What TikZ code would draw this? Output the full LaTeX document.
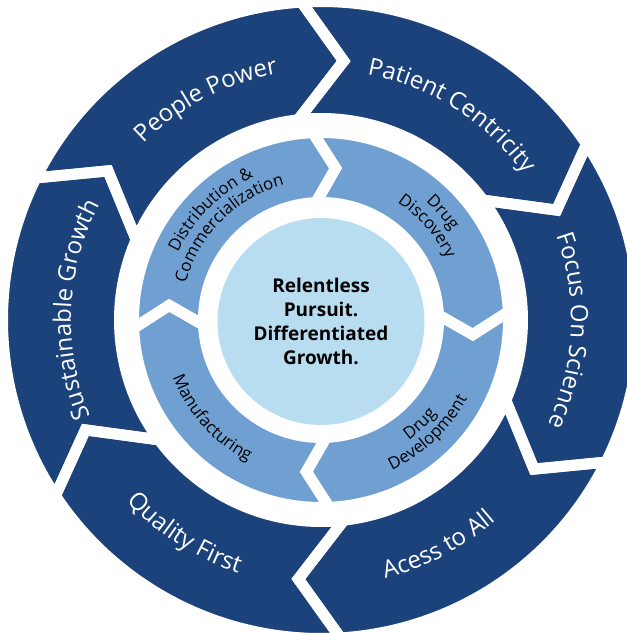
\documentclass[tikz,border=0pt]{standalone}
\usepackage{fontspec}
\setmainfont{Open Sans}
\usetikzlibrary{decorations.text}
\definecolor{dblue}{RGB}{27,66,122}
\definecolor{mblue}{RGB}{112,160,210}
\definecolor{lblue}{RGB}{185,221,240}
\newcommand\ofont{\fontsize{24}{24}\selectfont}
\newcommand\ifont{\fontsize{16.8}{16.8}\selectfont}
\tikzset{
  outerlbl/.style={decorate, decoration={text along path, text={|\ofont|#1}, text align=center, text color=white}},
  innerlbl/.style={decorate, decoration={text along path, text={|\ifont|#1}, text align=center, text color=black}},
  gapline/.style={draw=white, line width=11pt, line join=miter},
}
\begin{document}
\begin{tikzpicture}[x=1pt,y=1pt]
\useasboundingbox (-321,-313) rectangle (306,320);
\clip (-321,-313) rectangle (306,320);
\fill[white] (-321,-313) rectangle (306,320);
% outer ring segments
\foreach \k in {0,...,5}{
  \pgfmathsetmacro\a{95-60*\k}
  \pgfmathsetmacro\b{35-60*\k}
  \fill[dblue] ({\a-1.5}:318.5pt) arc[start angle=\a-1.5, end angle=\b-1.5, radius=318.5pt]
    -- ({\b-10}:260pt) -- ({\b+1.5}:201.5pt) arc[start angle=\b+1.5, end angle=\a+1.5, radius=201.5pt]
    -- ({\a-10}:260pt) -- cycle;
}
\foreach \k in {0,...,5}{
  \pgfmathsetmacro\a{95-60*\k}
  \pgfmathsetmacro\b{35-60*\k}
  \path[gapline] ({\a-1.5}:318.5pt) arc[start angle=\a-1.5, end angle=\b-1.5, radius=318.5pt]
    -- ({\b-10}:260pt) -- ({\b+1.5}:201.5pt) arc[start angle=\b+1.5, end angle=\a+1.5, radius=201.5pt]
    -- ({\a-10}:260pt) -- cycle;
}
% inner ring segments
\foreach \k in {0,...,3}{
  \pgfmathsetmacro\a{92.5-90*\k}
  \pgfmathsetmacro\b{2.5-90*\k}
  \fill[mblue] ({\a}:187.5pt) arc[start angle=\a, end angle=\b, radius=187.5pt]
    -- ({\b-8}:152.5pt) -- ({\b}:117.5pt) arc[start angle=\b, end angle=\a, radius=117.5pt]
    -- ({\a-8}:152.5pt) -- cycle;
}
\foreach \k in {0,...,3}{
  \pgfmathsetmacro\a{92.5-90*\k}
  \pgfmathsetmacro\b{2.5-90*\k}
  \path[gapline] ({\a}:187.5pt) arc[start angle=\a, end angle=\b, radius=187.5pt]
    -- ({\b-8}:152.5pt) -- ({\b}:117.5pt) arc[start angle=\b, end angle=\a, radius=117.5pt]
    -- ({\a-8}:152.5pt) -- cycle;
}
% centre
\node[circle, fill=lblue, minimum size=207pt, inner sep=0pt, align=center,
      font=\fontsize{19}{24.2}\selectfont\bfseries] (hub) at (0,-1.5)
  {Relentless\\Pursuit.\\Differentiated\\Growth.};
% outer labels
\path[outerlbl={People Power}] (167.5:250pt) arc[start angle=167.5, end angle=67.5, radius=250pt];
\path[outerlbl={Patient Centricity}] (107.5:250pt) arc[start angle=107.5, end angle=7.5, radius=250pt];
\path[outerlbl={Focus On Science}] (47.5:250pt) arc[start angle=47.5, end angle=-52.5, radius=250pt];
\path[outerlbl={Acess to All}] (-112.5:266pt) arc[start angle=-112.5, end angle=-12.5, radius=266pt];
\path[outerlbl={Quality First}] (-172.5:266pt) arc[start angle=-172.5, end angle=-72.5, radius=266pt];
\path[outerlbl={Sustainable Growth}] (227.5:250pt) arc[start angle=227.5, end angle=127.5, radius=250pt];
% inner labels
\path[innerlbl={Distribution {\&}}] (180:158pt) arc[start angle=180, end angle=90, radius=158pt];
\path[innerlbl={Commercialization}] (185:140pt) arc[start angle=185, end angle=85, radius=140pt];
\path[innerlbl={Drug}] (86.5:158pt) arc[start angle=86.5, end angle=-3.5, radius=158pt];
\path[innerlbl={Discovery}] (91.5:140pt) arc[start angle=91.5, end angle=-8.5, radius=140pt];
\path[innerlbl={Drug}] (-96.5:149pt) arc[start angle=-96.5, end angle=3.5, radius=149pt];
\path[innerlbl={Development}] (-96.5:166pt) arc[start angle=-96.5, end angle=3.5, radius=166pt];
\path[innerlbl={Manufacturing}] (-188:159pt) arc[start angle=-188, end angle=-88, radius=159pt];
\end{tikzpicture}
\end{document}
